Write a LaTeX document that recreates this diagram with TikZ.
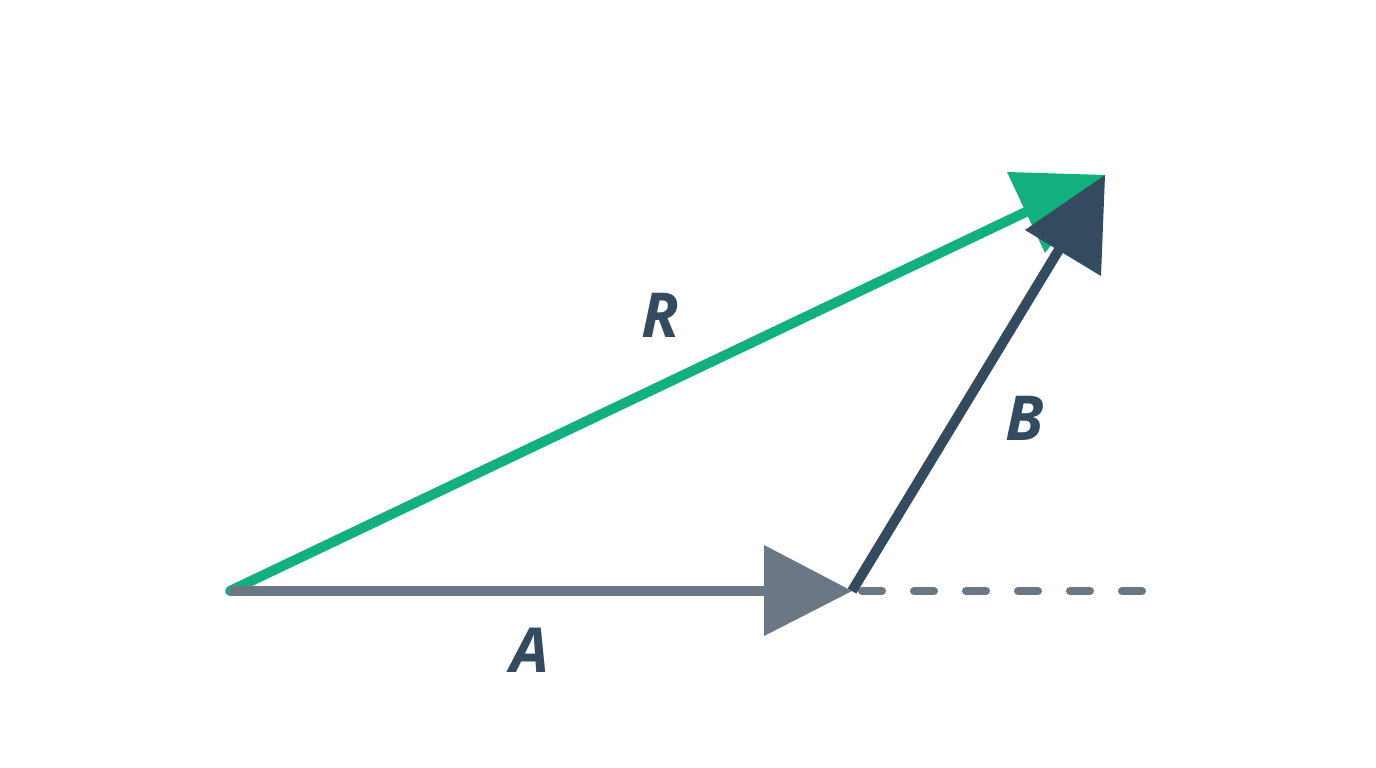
\documentclass[tikz,border=0pt]{standalone}
\usepackage{fontspec}
\setmainfont{Open Sans}
\definecolor{cgray}{HTML}{6B7785}
\definecolor{cgreen}{HTML}{12B07E}
\definecolor{cnavy}{HTML}{334A5F}
\tikzset{lbl/.style={font=\fontsize{62}{62}\selectfont\itshape\bfseries, text=cnavy}}
\begin{document}
\begin{tikzpicture}[x=1pt,y=-1pt]
\useasboundingbox (0,0) rectangle (1376,768);
\fill[white] (0,0) rectangle (1376,768);
\coordinate (O) at (230,591);
\coordinate (P) at (852,591);
\coordinate (Q) at (1105,175);
\coordinate (E) at (1148,591);
% dashed extension
\draw[cgray, line width=8, dash pattern=on 20 off 32, line cap=round] (862,591) -- (E);
% R
\draw[cgreen, line width=10, line cap=round] (O) -- (1030,210);
\fill[cgreen] (1007,172) -- (Q) -- (1045,253) -- cycle;
% A
\draw[cgray, line width=10] (O) -- (770,591);
\fill[cgray] (764,545) -- (P) -- (764,636) -- cycle;
% B
\draw[cnavy, line width=10] (P) -- (1060,248);
\fill[cnavy] (1025,230) -- (Q) -- (1101,276) -- cycle;
\node[lbl] (la) at (530,650) {A};
\node[lbl] (lr) at (660,315) {R};
\node[lbl] (lb) at (1025,418) {B};
\end{tikzpicture}
\end{document}
